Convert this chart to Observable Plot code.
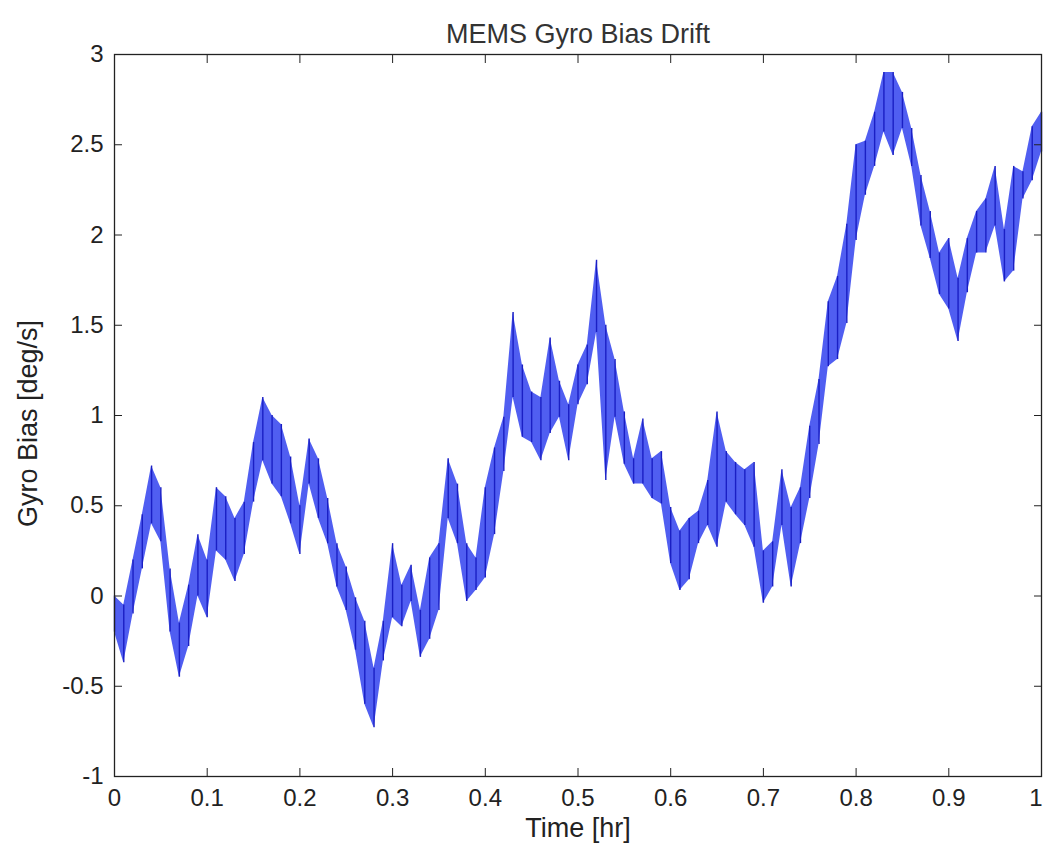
<!DOCTYPE html>
<html>
<head>
<meta charset="utf-8">
<script src="https://cdn.jsdelivr.net/npm/d3@7"></script>
<script src="https://cdn.jsdelivr.net/npm/@observablehq/plot@0.6"></script>
<style>
  html, body { margin: 0; padding: 0; background: #ffffff; overflow: hidden; }
  #chart { width: 1043px; height: 855px; }
  svg { font-family: "Liberation Sans", Arial, sans-serif; }
</style>
</head>
<body>
<div id="chart"></div>
<script>
// Time samples [hr]
const times = [0.00,0.01,0.02,0.03,0.04,0.05,0.06,0.07,0.08,0.09,
  0.10,0.11,0.12,0.13,0.14,0.15,0.16,0.17,0.18,0.19,
  0.20,0.21,0.22,0.23,0.24,0.25,0.26,0.27,0.28,0.29,
  0.30,0.31,0.32,0.33,0.34,0.35,0.36,0.37,0.38,0.39,
  0.40,0.41,0.42,0.43,0.44,0.45,0.46,0.47,0.48,0.49,
  0.50,0.51,0.52,0.53,0.54,0.55,0.56,0.57,0.58,0.59,
  0.60,0.61,0.62,0.63,0.64,0.65,0.66,0.67,0.68,0.69,
  0.70,0.71,0.72,0.73,0.74,0.75,0.76,0.77,0.78,0.79,
  0.80,0.81,0.82,0.83,0.84,0.85,0.86,0.87,0.88,0.89,
  0.90,0.91,0.92,0.93,0.94,0.95,0.96,0.97,0.98,0.99,1.00];
// Lower envelope of the noisy bias [deg/s]
const biasLow = [-0.20,-0.37,-0.10,0.15,0.40,0.30,-0.20,-0.45,-0.28,0.00,
  -0.12,0.25,0.20,0.08,0.23,0.52,0.75,0.62,0.55,0.40,
  0.23,0.62,0.43,0.29,0.05,-0.08,-0.30,-0.60,-0.73,-0.36,
  -0.12,-0.17,-0.03,-0.34,-0.24,-0.08,0.43,0.29,-0.03,0.03,
  0.10,0.34,0.69,1.10,0.88,0.85,0.75,0.90,0.99,0.75,
  1.06,1.17,1.46,0.64,0.99,0.73,0.62,0.62,0.54,0.51,
  0.18,0.03,0.09,0.29,0.39,0.27,0.52,0.45,0.39,0.27,
  -0.04,0.05,0.39,0.05,0.29,0.54,0.84,1.27,1.31,1.51,
  1.97,2.22,2.38,2.57,2.44,2.59,2.38,2.05,1.87,1.67,
  1.59,1.41,1.68,1.90,1.90,2.05,1.74,1.80,2.20,2.30,2.46];
// Upper envelope of the noisy bias [deg/s]
const biasHigh = [0.00,-0.05,0.20,0.45,0.72,0.60,0.15,-0.15,0.06,0.34,
  0.20,0.60,0.55,0.43,0.52,0.85,1.10,1.00,0.95,0.77,
  0.50,0.87,0.76,0.54,0.29,0.16,-0.01,-0.14,-0.40,-0.14,
  0.29,0.06,0.17,-0.08,0.21,0.29,0.76,0.62,0.29,0.21,
  0.60,0.82,0.99,1.57,1.28,1.13,1.10,1.43,1.19,1.06,
  1.28,1.39,1.86,1.50,1.31,1.02,0.76,0.98,0.76,0.80,
  0.49,0.36,0.43,0.47,0.64,1.02,0.80,0.74,0.70,0.74,
  0.25,0.30,0.70,0.49,0.60,0.94,1.20,1.63,1.77,2.06,
  2.50,2.52,2.68,2.90,2.90,2.79,2.59,2.33,2.13,1.90,
  1.98,1.76,1.98,2.13,2.20,2.38,2.03,2.38,2.35,2.60,2.68];

const xTicks = [0,0.1,0.2,0.3,0.4,0.5,0.6,0.7,0.8,0.9,1];
const yTicks = [-1,-0.5,0,0.5,1,1.5,2,2.5,3];
const titleText = "MEMS Gyro Bias Drift";
const xLabel = "Time [hr]";
const yLabel = "Gyro Bias [deg/s]";

const band = times.map((t, i) => ({t, lo: biasLow[i], hi: biasHigh[i]}));
const lastTick = xTicks[xTicks.length - 1];

const fillColor = "#2436ee";
const lineColor = "#1a1fc4";
const fmt = d => String(d);

const chart = Plot.plot({
  width: 1043,
  height: 855,
  marginLeft: 114,
  marginRight: 2,
  marginTop: 54,
  marginBottom: 79,
  style: {fontFamily: "'Liberation Sans', Arial, sans-serif", fontSize: "24px", color: "#222", background: "#fff"},
  x: {domain: [0, 1]},
  y: {domain: [-1, 3]},
  marks: [
    Plot.areaY(band, {x: "t", y1: "lo", y2: "hi", fill: fillColor, fillOpacity: 0.8}),
    Plot.ruleX(band, {x: "t", y1: "lo", y2: "hi", stroke: lineColor, strokeWidth: 1.4}),
    Plot.frame({stroke: "#222", strokeWidth: 1.3}),
    Plot.axisX(xTicks, {anchor: "bottom", tickSize: -8, tickPadding: 20, tickFormat: d => d === lastTick ? "" : fmt(d), label: null, fontSize: 24, fill: "#222"}),
    Plot.text([lastTick], {x: d => d, frameAnchor: "bottom", textAnchor: "end", lineAnchor: "top", dx: 1, dy: 12, fontSize: 24, fill: "#222", text: fmt}),
    Plot.axisX(xTicks, {anchor: "top", tickSize: -8, tickFormat: () => "", label: null}),
    Plot.axisY(yTicks, {anchor: "left", tickSize: -8, tickPadding: 19, tickFormat: fmt, label: null, fontSize: 24, fill: "#222"}),
    Plot.axisY(yTicks, {anchor: "right", tickSize: -8, tickFormat: () => "", label: null}),
    Plot.text([titleText], {frameAnchor: "top", dy: -31, fontSize: 27, fill: "#333", text: d => d}),
    Plot.text([xLabel], {frameAnchor: "bottom", dy: 60, fontSize: 27, fill: "#222", text: d => d}),
    Plot.text([yLabel], {frameAnchor: "left", textAnchor: "middle", dx: -86, dy: 8, rotate: -90, fontSize: 27, fill: "#222", text: d => d})
  ]
});
document.getElementById("chart").appendChild(chart);
</script>
</body>
</html>
